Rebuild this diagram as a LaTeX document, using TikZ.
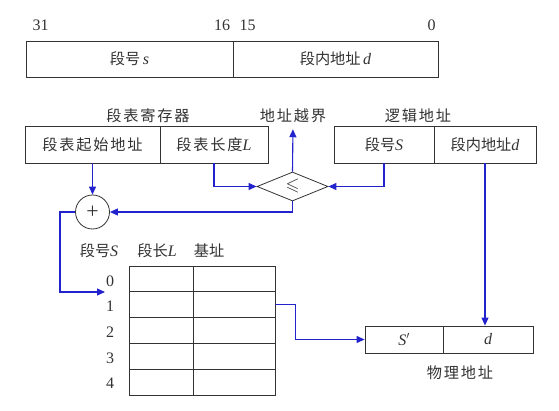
\documentclass[tikz,border=0pt]{standalone}
\usepackage{amssymb}
\usepackage{fontspec}
\setmainfont{Liberation Serif}
\newfontfamily\cjk[Scale=0.95]{Noto Sans CJK SC}
\newfontfamily\cjkw[Scale=0.95,LetterSpace=12]{Noto Sans CJK SC}
\newcommand{\lat}[1]{{\rmfamily\itshape #1}}
\usetikzlibrary{arrows.meta,shapes.geometric}
\definecolor{lineblue}{RGB}{35,35,205}
\definecolor{txt}{RGB}{50,50,50}
\begin{document}
\begin{tikzpicture}[x=1pt,y=-1pt,
  cell/.style={draw=black!80, line width=0.8pt, inner sep=0pt, text=txt, font=\fontsize{16}{18}\selectfont},
  lbl/.style={inner sep=0pt, text=txt, font=\fontsize{16}{18}\selectfont},
  conn/.style={draw=lineblue, line width=1.1pt},
  arr/.style={conn, -{Triangle[length=8pt,width=7pt]}}]
\useasboundingbox (0,0) rectangle (559,411);
% top format
\node[cell, minimum width=207pt, minimum height=36pt] (fs) at (129.5,59) {\cjk 段号\,\lat{s}};
\node[cell, minimum width=205pt, minimum height=36pt] (fd) at (335.5,59) {\cjk 段内地址\,\lat{d}};
\node[lbl] (n31) at (40.5,25) {31};
\node[lbl] (n16) at (222,25) {16};
\node[lbl] (n15) at (247.5,25) {15};
\node[lbl] (n0) at (431.5,25) {0};
% segment table register
\node[lbl] (regtitle) at (148,116) {\cjkw 段表寄存器};
\node[cell, minimum width=135pt, minimum height=37pt] (regA) at (92.5,144.5) {\cjkw 段表起始地址};
\node[cell, minimum width=108pt, minimum height=37pt] (regL) at (214,144.5) {\cjkw 段表长度\lat{L}};
% logical address
\node[lbl] (logtitle) at (418,116) {\cjkw 逻辑地址};
\node[cell, minimum width=100pt, minimum height=37pt] (logS) at (384,144.5) {\cjk 段号\lat{S}};
\node[cell, minimum width=102pt, minimum height=37pt] (logD) at (485,144.5) {\cjk 段内地址\lat{d}};
% overflow
\node[lbl] (over) at (293,116) {\cjkw 地址越界};
% comparator
\node[cell, shape=diamond, aspect=2.45, minimum width=71pt, minimum height=29pt] (dia) at (292.5,186.5) {\fontsize{18}{18}\selectfont$\leqslant$};
% adder
\node[cell, circle, minimum size=34pt] (add) at (92.5,212) {\fontsize{22}{22}\selectfont +};
% table headers
\node[lbl] (hS) at (99,251) {\cjk 段号\lat{S}};
\node[lbl] (hL) at (157,251) {\cjk 段长\lat{L}};
\node[lbl] (hB) at (209,251) {\cjk 基址};
% table
\foreach \i in {0,...,4} {
  \node[cell, minimum width=64pt, minimum height=25.8pt] (t\i) at (161,{279+25.8*\i}) {};
  \node[cell, minimum width=82pt, minimum height=25.8pt] (b\i) at (234,{279+25.8*\i}) {};
  \node[lbl] (r\i) at (110,{281+25.6*\i}) {\i};
}
% physical address
\node[cell, minimum width=78pt, minimum height=27pt] (pS) at (404,339.5) {\lat{S}$'$};
\node[cell, minimum width=90pt, minimum height=27pt] (pD) at (488,339.5) {\lat{d}};
\node[lbl] (phytitle) at (460,373) {\cjkw 物理地址};
% connectors
\coordinate (c1) at (60,212);
\coordinate (tin) at (105,292);
\draw[arr] (regA.south) -- (add.north);
\draw[arr] (regL.south) |- (dia.west);
\draw[arr] (logS.south) |- (dia.east);
\draw[arr, shorten >=6pt] (dia.north) -- (over.south);
\draw[arr] (dia.south) |- (add.east);
\draw[arr] (add.west) -- (c1) |- (tin);
\draw[arr] (b1.east) -- ++(20,0) |- (pS.west);
\draw[arr] (logD.south) -- (logD.south |- pD.north);
\end{tikzpicture}
\end{document}
